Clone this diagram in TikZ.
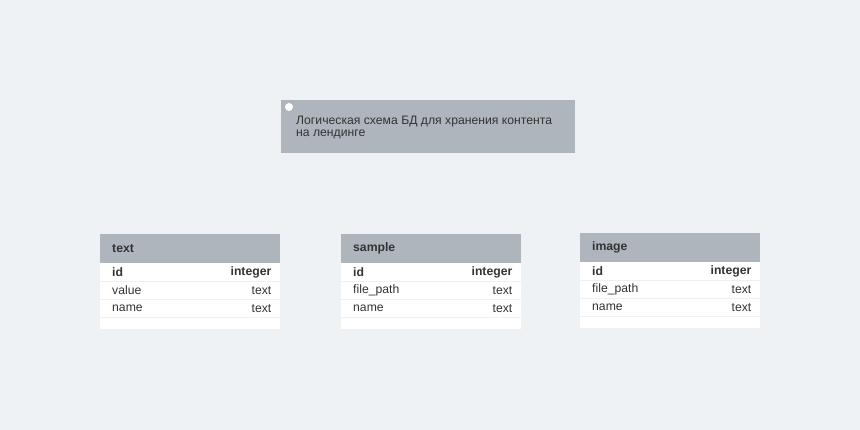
\documentclass[tikz,border=0pt]{standalone}
\usepackage{fontspec}
\setmainfont{Liberation Sans}
\definecolor{bg}{HTML}{EEF2F5}
\definecolor{hdr}{HTML}{AEB5BC}
\definecolor{txt}{HTML}{333333}
\definecolor{sep}{HTML}{EEF1F4}
\tikzset{
  hdrbox/.style={fill=hdr, draw=none},
  rowbox/.style={fill=white, draw=none},
  sepline/.style={draw=sep, line width=1.5pt},
  hdrtext/.style={anchor=west, inner sep=0pt, font=\fontsize{12.2}{14}\selectfont\bfseries, text=txt},
  lefttext/.style={anchor=west, inner sep=0pt, font=\fontsize{12.2}{14}\selectfont, text=txt},
  righttext/.style={anchor=east, inner sep=0pt, font=\fontsize{12.2}{14}\selectfont, text=txt},
  righttextb/.style={anchor=east, inner sep=0pt, font=\fontsize{12.2}{14}\selectfont\bfseries, text=txt},
  lefttextb/.style={anchor=west, inner sep=0pt, font=\fontsize{12.2}{14}\selectfont\bfseries, text=txt},
}
\newcommand{\erdtable}[6]{%
  \fill[hdr] (#2,#3) rectangle ++(180,29);
  \fill[white] (#2,#3+29) rectangle ++(180,66);
  \draw[sepline] (#2,#3+47.5) -- ++(180,0);
  \draw[sepline] (#2,#3+65.5) -- ++(180,0);
  \draw[sepline] (#2,#3+83.5) -- ++(180,0);
  \node[hdrtext] (#1h) at (#2+12,#3+14.5) {#4};
  \node[lefttextb] (#1a) at (#2+12,#3+38.5) {id};
  \node[righttextb] (#1at) at (#2+171.5,#3+38.5) {integer};
  \node[lefttext] (#1b) at (#2+12,#3+56.5) {#5};
  \node[righttext] (#1bt) at (#2+171.5,#3+56.5) {text};
  \node[lefttext] (#1c) at (#2+12,#3+74.5) {#6};
  \node[righttext] (#1ct) at (#2+171.5,#3+74.5) {text};
}
\begin{document}
\begin{tikzpicture}[x=1pt,y=-1pt]
\fill[bg] (0,0) rectangle (860,430);
\useasboundingbox (0,0) rectangle (860,430);
% note
\fill[hdr] (281,100) rectangle (575,153);
\fill[white] (289,107) circle (4);
\node[lefttext, anchor=north west, align=left, font=\fontsize{12.2}{12}\selectfont] (note) at (296,115.5) {Логическая схема БД для хранения контента\\на лендинге};
\erdtable{t}{100}{234}{text}{value}{name}
\erdtable{s}{341}{234}{sample}{file\_path}{name}
\erdtable{i}{580}{233}{image}{file\_path}{name}
\end{tikzpicture}
\end{document}
